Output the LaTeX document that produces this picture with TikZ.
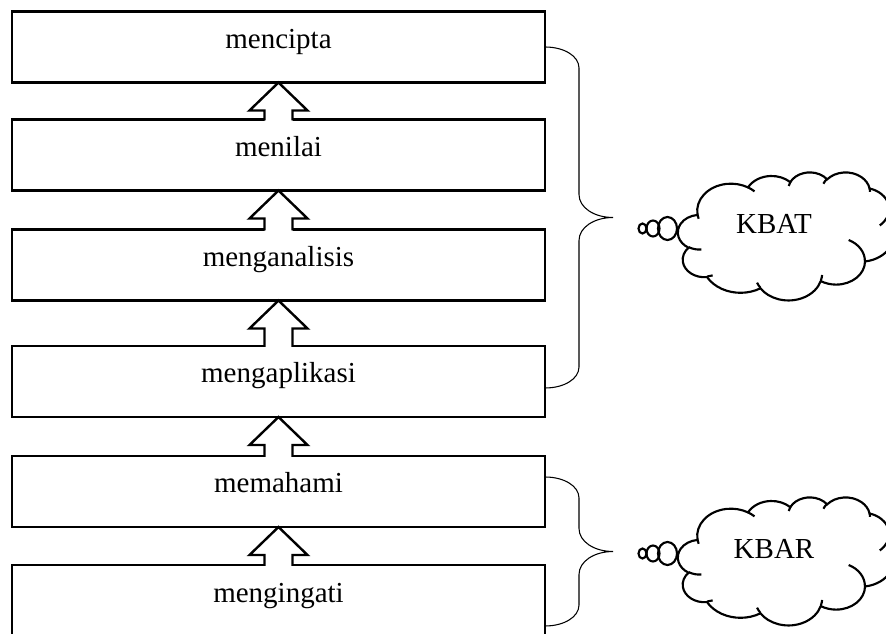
\documentclass[tikz,border=0pt]{standalone}
\usepackage{fontspec}
\setmainfont{Liberation Serif}
\usetikzlibrary{calc}
\newcommand\lbl{\fontsize{21.75}{26}\selectfont}
% Word-style arc: wR, hR, visual start angle, visual sweep
\newcommand\carc[4]{arc[x radius={#1/432}, y radius={#2/432}, start angle={atan2((#1/#2)*sin(#3),cos(#3))}, delta angle={Mod(atan2((#1/#2)*sin(#3+#4),cos(#3+#4))-atan2((#1/#2)*sin(#3),cos(#3)),360)}]}
% block arrow from lower box #2 up to upper box #1
\newcommand\blockup[2]{%
  \fill[white] ($(#2.north)+(-14,1.3)$) -- ($(#1.south)+(-14,28)$) -- ($(#1.south)+(-29,28)$) -- (#1.south)
     -- ($(#1.south)+(29,28)$) -- ($(#1.south)+(14,28)$) -- ($(#2.north)+(14,1.3)$) -- cycle;
  \draw[blk] ($(#2.north)+(-14,1)$) -- ($(#1.south)+(-14,28)$) -- ($(#1.south)+(-29,28)$) -- (#1.south)
     -- ($(#1.south)+(29,28)$) -- ($(#1.south)+(14,28)$) -- ($(#2.north)+(14,1)$);}
% curly brace from #1 (top) to #2 (bottom), tip named #3
\newcommand\curlyb[3]{%
  \coordinate (#3) at ($($(#1)!.5!(#2)$)+(68,0)$);
  \draw[brc] (#1) .. controls ($(#1)+(19,0)$) and ($(#1)+(34,9)$) .. ($(#1)+(34,21)$)
    -- ($(#3)+(-34,-23)$) .. controls ($(#3)+(-34,-10)$) and ($(#3)+(-19,0)$) .. (#3)
    .. controls ($(#3)+(-19,0)$) and ($(#3)+(-34,10)$) .. ($(#3)+(-34,23)$)
    -- ($(#2)+(34,-21)$) .. controls ($(#2)+(34,-9)$) and ($(#2)+(19,0)$) .. (#2);}
% Word cloud shape in a box: left, top, x unit, y unit (coordinates in 0..100)
\newcommand\wcloud[4]{%
  \begin{scope}[shift={(#1,#2)}, x=#3, y=-#4]
    \draw[cld, fill=white] (9.0278,33.2639)
      \carc{6753}{9190}{-190.4875}{123.7805}
      \carc{5333}{7267}{-144.1024}{89.9452}
      \carc{4365}{5945}{-145.8079}{99.7230}
      \carc{4857}{6595}{-130.9861}{117.2417}
      \carc{5333}{7273}{-78.7089}{109.0269}
      \carc{6775}{9220}{-46.2673}{130.2690}
      \carc{5785}{7867}{0.6250}{114.0333}
      \carc{6752}{9215}{22.4516}{115.1726}
      \carc{7720}{10543}{66.2426}{75.7110}
      \carc{4360}{5918}{-274.9421}{146.7356}
      \carc{4345}{5945}{-246.8285}{152.5189} -- cycle;
    \draw[cld]
      (10.8634,60.5949) \carc{4345}{5945}{86.7420}{26.4295}
      (16.0370,80.7847) \carc{4360}{5918}{73.6105}{11.4475}
      (38.1435,90.4861) \carc{6752}{9215}{137.6242}{14.0811}
      (66.7292,80.4421) \carc{6752}{9215}{6.4533}{15.9984}
      (79.0023,53.1343) \carc{5785}{7867}{-70.2924}{70.9174}
      (96.7546,35.5417) \carc{5333}{7273}{30.3180}{27.7515}
      (88.7130,12.5602) \carc{4857}{6595}{-13.7443}{14.8589}
      (67.3102,9.1481) \carc{4857}{6595}{-149.1815}{18.1954}
      (51.2523,10.9259) \carc{4365}{5945}{-163.4943}{17.6864}
      (32.4074,12.0185) \carc{6753}{9190}{-66.7070}{12.3194}
      (9.5532,36.5486) \carc{6753}{9190}{157.6544}{11.8582};
  \end{scope}}
\tikzset{
  box/.style={draw, line width=1.8pt, minimum width=399.75pt, minimum height=53.25pt,
    inner sep=0pt, outer sep=0pt, text height=2.25pt, text depth=0pt, font=\lbl},
  blk/.style={line width=1.8pt, line join=miter},
  brc/.style={line width=0.8pt},
  cld/.style={line width=1.6pt},
  lab/.style={anchor=base, font=\lbl, inner sep=0pt},
}
\begin{document}
\begin{tikzpicture}[x=0.75pt, y=-0.75pt]
\useasboundingbox (0,0) rectangle (886,634);
\clip (0,0) rectangle (886,634);
\node[box] (b1) at (278.5,47) {mencipta};
\node[box] (b2) at (278.5,155) {menilai};
\node[box] (b3) at (278.5,265) {menganalisis};
\node[box] (b4) at (278.5,381.5) {mengaplikasi};
\node[box] (b5) at (278.5,491.5) {memahami};
\node[box] (b6) at (278.5,600.5) {mengingati};
\blockup{b1}{b2}
\blockup{b2}{b3}
\blockup{b3}{b4}
\blockup{b4}{b5}
\blockup{b5}{b6}
\coordinate (ta) at (b1.east);
\coordinate (tb) at ($(b4.east)+(0,6.5)$);
\coordinate (ra) at ($(b5.east)+(0,-14.5)$);
\coordinate (rb) at ($(b6.east)+(0,25.5)$);
\curlyb{ta}{tb}{tipT}
\curlyb{ra}{rb}{tipR}
% KBAT cloud
\wcloud{678}{172}{1.62pt}{0.96pt}
\draw[cld] (642.5,228.5) ellipse [x radius=4, y radius=5];
\draw[cld] (653,228.5) ellipse [x radius=6.5, y radius=8];
\draw[cld] (667.5,228.5) ellipse [x radius=9.5, y radius=11.5];
\node[lab] (kbat) at (774,234) {KBAT};
% KBAR cloud
\wcloud{678}{497}{1.62pt}{0.96pt}
\draw[cld] (642.5,553.5) ellipse [x radius=4, y radius=5];
\draw[cld] (653,553.5) ellipse [x radius=6.5, y radius=8];
\draw[cld] (667.5,553.5) ellipse [x radius=9.5, y radius=11.5];
\node[lab] (kbar) at (774,559) {KBAR};
\end{tikzpicture}
\end{document}
